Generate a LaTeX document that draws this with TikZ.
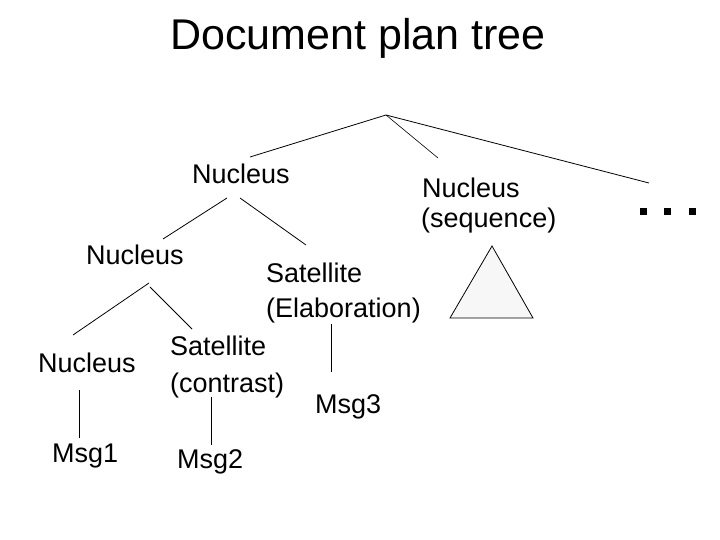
\documentclass[tikz,border=0pt]{standalone}
\usepackage{fontspec}
\setmainfont{Liberation Sans}
\begin{document}
\begin{tikzpicture}[x=1pt,y=-1pt,
  lbl/.style={anchor=base west,inner sep=0pt,font=\fontsize{27}{32}\selectfont},
  ttl/.style={anchor=base,inner sep=0pt,font=\fontsize{43}{50}\selectfont},
  edge/.style={draw=black,line width=0.8pt},
  subtree/.style={draw=black,line width=0.8pt,fill=black!3},
  dotsq/.style={fill=black,draw=none,minimum size=7pt,inner sep=0pt}]
\useasboundingbox (0,0) rectangle (720,540);
% title
\node[ttl] (title) at (358,49.5) {Document plan tree};
% labels
\node[lbl] (nucA) at (192,184) {Nucleus};
\node[lbl] (nucB) at (422,197) {Nucleus};
\node[lbl] (nucBs) at (421,228) {(sequence)};
\node[lbl] (nucC) at (86,264) {Nucleus};
\node[lbl] (satE) at (266,282) {Satellite};
\node[lbl] (satEs) at (266,317) {(Elaboration)};
\node[lbl] (nucD) at (38,372) {Nucleus};
\node[lbl] (satC) at (170,355) {Satellite};
\node[lbl] (satCs) at (170,392) {(contrast)};
\node[lbl] (msgA) at (52,462) {Msg1};
\node[lbl] (msgB) at (177,468) {Msg2};
\node[lbl] (msgC) at (315,413) {Msg3};
% subtree triangle and continuation dots
\draw[subtree] (492,246) -- (450,318) -- (533,318) -- cycle;
\node[dotsq] (d1) at (643,212) {};
\node[dotsq] (d2) at (667,212) {};
\node[dotsq] (d3) at (692,212) {};
% connector end points
\coordinate (root) at (386,115);
\coordinate (eA) at (250,157);
\coordinate (eB) at (438,158);
\coordinate (eD) at (649,183);
\coordinate (nucAl) at (227,198);
\coordinate (nucAr) at (240,198);
\coordinate (eC) at (163,239);
\coordinate (eE) at (306,245);
\coordinate (nucCl) at (149,283);
\coordinate (nucCr) at (150,287);
\coordinate (eF) at (73,335);
\coordinate (eG) at (192,329);
\coordinate (satEb) at (331,324);
\coordinate (eH) at (331,372);
\coordinate (nucDb) at (79,390);
\coordinate (eI) at (79,438);
\coordinate (satCb) at (211,397);
\coordinate (eJ) at (211,445);
% connectors
\draw[edge] (root) -- (eA);
\draw[edge,line width=0.6pt] (root) -- (eB);
\draw[edge] (root) -- (eD);
\draw[edge] (nucAl) -- (eC);
\draw[edge] (nucAr) -- (eE);
\draw[edge] (nucCl) -- (eF);
\draw[edge] (nucCr) -- (eG);
\draw[edge] (satEb) -- (eH);
\draw[edge] (nucDb) -- (eI);
\draw[edge] (satCb) -- (eJ);
\end{tikzpicture}
\end{document}
